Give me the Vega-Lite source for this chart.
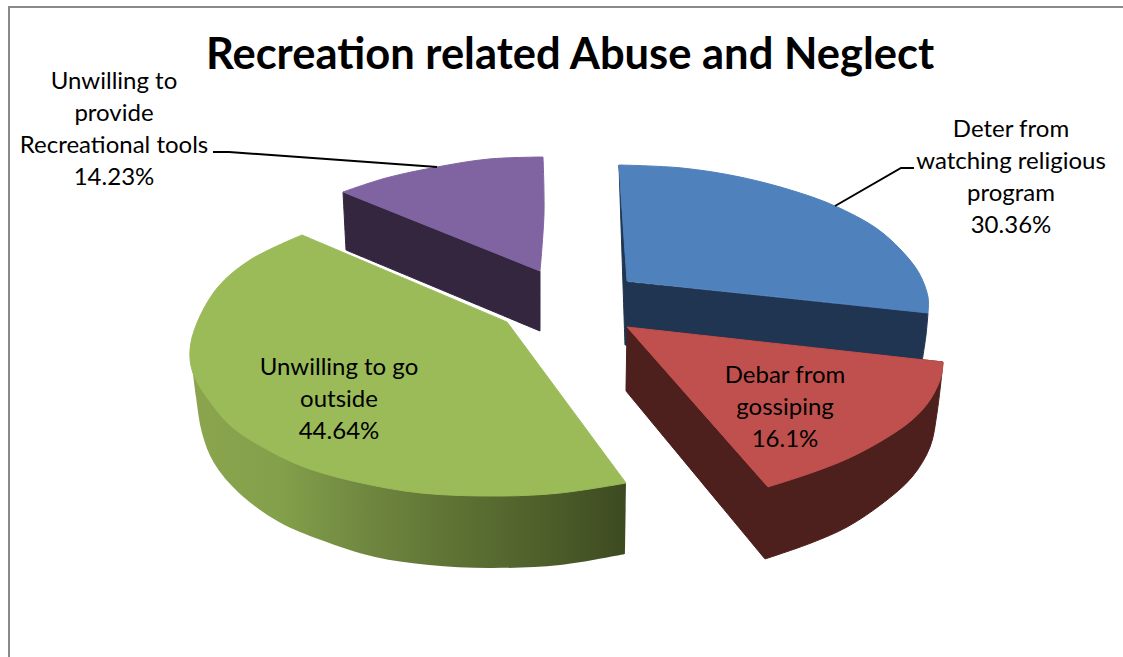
{
  "$schema": "https://vega.github.io/schema/vega-lite/v6.json",
  "autosize": "none",
  "width": 1123,
  "height": 657,
  "padding": 0,
  "background": "white",
  "config": {"view": {"stroke": null}},
  "datasets": {
    "faces": [
      {"face":"Deter side","i":1,"x":619,"y":165},{"face":"Deter side","i":2,"x":619,"y":165},{"face":"Deter side","i":3,"x":628,"y":282},{"face":"Deter side","i":4,"x":628,"y":282},{"face":"Deter side","i":5,"x":928,"y":313},{"face":"Deter side","i":6,"x":928,"y":313},{"face":"Deter side","i":7,"x":926,"y":335},{"face":"Deter side","i":8,"x":922,"y":362},{"face":"Deter side","i":9,"x":922,"y":362},{"face":"Deter side","i":10,"x":625,"y":345},{"face":"Deter side","i":11,"x":625,"y":345},{"face":"Deter side","i":12,"x":619,"y":165},{"face":"Deter side","i":13,"x":619,"y":165},

      {"face":"Deter top","i":1,"x":619,"y":165},{"face":"Deter top","i":2,"x":619,"y":165},{"face":"Deter top","i":3,"x":682,"y":168},{"face":"Deter top","i":4,"x":740,"y":177},{"face":"Deter top","i":5,"x":797,"y":192},{"face":"Deter top","i":6,"x":835,"y":206},{"face":"Deter top","i":7,"x":876,"y":228},{"face":"Deter top","i":8,"x":901,"y":250},{"face":"Deter top","i":9,"x":919,"y":273},{"face":"Deter top","i":10,"x":928,"y":297},{"face":"Deter top","i":11,"x":928,"y":313},{"face":"Deter top","i":12,"x":928,"y":313},{"face":"Deter top","i":13,"x":627,"y":281},{"face":"Deter top","i":14,"x":627,"y":281},{"face":"Deter top","i":15,"x":619,"y":165},{"face":"Deter top","i":16,"x":619,"y":165},

      {"face":"Debar side","i":1,"x":627,"y":327},{"face":"Debar side","i":2,"x":627,"y":327},{"face":"Debar side","i":3,"x":626,"y":391},{"face":"Debar side","i":4,"x":626,"y":391},{"face":"Debar side","i":5,"x":765,"y":559},{"face":"Debar side","i":6,"x":765,"y":559},{"face":"Debar side","i":7,"x":811,"y":543},{"face":"Debar side","i":8,"x":847,"y":527},{"face":"Debar side","i":9,"x":883,"y":503},{"face":"Debar side","i":10,"x":912,"y":477},{"face":"Debar side","i":11,"x":930,"y":447},{"face":"Debar side","i":12,"x":937,"y":413},{"face":"Debar side","i":13,"x":943,"y":362},{"face":"Debar side","i":14,"x":943,"y":362},{"face":"Debar side","i":15,"x":627,"y":327},{"face":"Debar side","i":16,"x":627,"y":327},

      {"face":"Debar top","i":1,"x":627,"y":327},{"face":"Debar top","i":2,"x":627,"y":327},{"face":"Debar top","i":3,"x":943,"y":362},{"face":"Debar top","i":4,"x":943,"y":362},{"face":"Debar top","i":5,"x":941,"y":377},{"face":"Debar top","i":6,"x":930,"y":400},{"face":"Debar top","i":7,"x":912,"y":420},{"face":"Debar top","i":8,"x":883,"y":440},{"face":"Debar top","i":9,"x":847,"y":459},{"face":"Debar top","i":10,"x":811,"y":473},{"face":"Debar top","i":11,"x":768,"y":487},{"face":"Debar top","i":12,"x":768,"y":487},{"face":"Debar top","i":13,"x":627,"y":327},{"face":"Debar top","i":14,"x":627,"y":327},

      {"face":"Tools side","i":1,"x":343,"y":192},{"face":"Tools side","i":2,"x":343,"y":192},{"face":"Tools side","i":3,"x":346,"y":250},{"face":"Tools side","i":4,"x":346,"y":250},{"face":"Tools side","i":5,"x":540,"y":331},{"face":"Tools side","i":6,"x":540,"y":331},{"face":"Tools side","i":7,"x":540,"y":271},{"face":"Tools side","i":8,"x":540,"y":271},{"face":"Tools side","i":9,"x":343,"y":192},{"face":"Tools side","i":10,"x":343,"y":192},

      {"face":"Tools top","i":1,"x":343,"y":192},{"face":"Tools top","i":2,"x":343,"y":192},{"face":"Tools top","i":3,"x":386,"y":178},{"face":"Tools top","i":4,"x":437,"y":167},{"face":"Tools top","i":5,"x":489,"y":159},{"face":"Tools top","i":6,"x":543,"y":157},{"face":"Tools top","i":7,"x":543,"y":157},{"face":"Tools top","i":8,"x":544,"y":213},{"face":"Tools top","i":9,"x":540,"y":271},{"face":"Tools top","i":10,"x":540,"y":271},{"face":"Tools top","i":11,"x":343,"y":192},{"face":"Tools top","i":12,"x":343,"y":192}
    ],
    "outsideTop": [
      {"i":1,"x":302,"y":235},{"i":2,"x":302,"y":235},{"i":3,"x":250,"y":260},{"i":4,"x":218,"y":287},{"i":5,"x":197,"y":323},{"i":6,"x":190,"y":350},{"i":7,"x":193,"y":373},{"i":8,"x":211,"y":403},{"i":9,"x":232,"y":427},{"i":10,"x":268,"y":450},{"i":11,"x":304,"y":467},{"i":12,"x":357,"y":482},{"i":13,"x":421,"y":493},{"i":14,"x":500,"y":496},{"i":15,"x":560,"y":493},{"i":16,"x":626,"y":483},{"i":17,"x":626,"y":483},{"i":18,"x":507,"y":322},{"i":19,"x":507,"y":322},{"i":20,"x":302,"y":235},{"i":21,"x":302,"y":235}
    ],
    "outsideSide": [
      {"i":1,"x":192,"y":365},{"i":2,"x":192,"y":365},{"i":3,"x":196,"y":397},{"i":4,"x":202,"y":433},{"i":5,"x":214,"y":463},{"i":6,"x":239,"y":493},{"i":7,"x":279,"y":522},{"i":8,"x":321,"y":540},{"i":9,"x":375,"y":557},{"i":10,"x":429,"y":565},{"i":11,"x":489,"y":568},{"i":12,"x":560,"y":565},{"i":13,"x":625,"y":554},{"i":14,"x":625,"y":554},{"i":15,"x":626,"y":483},{"i":16,"x":626,"y":483},{"i":17,"x":400,"y":470},{"i":18,"x":400,"y":470},{"i":19,"x":192,"y":365},{"i":20,"x":192,"y":365}
    ],
    "guides": [
      {"guide":"frame","i":1,"x":1123,"y":7},{"guide":"frame","i":2,"x":9,"y":7},{"guide":"frame","i":3,"x":9,"y":657},
      {"guide":"tools","i":1,"x":213,"y":152},{"guide":"tools","i":2,"x":229,"y":152},{"guide":"tools","i":3,"x":437,"y":167},
      {"guide":"deter","i":1,"x":914,"y":168},{"guide":"deter","i":2,"x":901,"y":168},{"guide":"deter","i":3,"x":835,"y":206}
    ],
    "slices": [
      {"label":"Deter from\nwatching religious\nprogram\n30.36%","share":30.36,"x":1011,"y":130},
      {"label":"Debar from\ngossiping\n16.1%","share":16.1,"x":785,"y":376},
      {"label":"Unwilling to go\noutside\n44.64%","share":44.64,"x":339,"y":368},
      {"label":"Unwilling to\nprovide\nRecreational tools\n14.23%","share":14.23,"x":114,"y":82}
    ],
    "heading": [{"text":"Recreation related Abuse and Neglect","x":570,"y":56}]
  },
  "layer": [
    {
      "data": {"name": "guides"},
      "transform": [{"filter": "datum.guide === 'frame'"}],
      "mark": {"type": "line", "stroke": "#8a8a8a", "strokeWidth": 2},
      "encoding": {
        "x": {"field": "x", "type": "quantitative", "scale": {"domain": [0, 1123], "nice": false, "zero": false}, "axis": null},
        "y": {"field": "y", "type": "quantitative", "scale": {"domain": [657, 0], "nice": false, "zero": false}, "axis": null},
        "order": {"field": "i", "type": "quantitative"}
      }
    },
    {
      "data": {"name": "faces"},
      "mark": {"type": "line", "interpolate": "catmull-rom", "strokeWidth": 1},
      "encoding": {
        "x": {"field": "x", "type": "quantitative"},
        "y": {"field": "y", "type": "quantitative"},
        "order": {"field": "i", "type": "quantitative"},
        "detail": {"field": "face"},
        "fill": {
          "field": "face", "type": "nominal", "legend": null,
          "scale": {
            "domain": ["Deter side", "Deter top", "Debar side", "Debar top", "Tools side", "Tools top"],
            "range": ["#1f3552", "#4f81bd", "#4d1f1d", "#c0504d", "#35263f", "#8064a2"]
          }
        },
        "stroke": {
          "field": "face", "type": "nominal", "legend": null,
          "scale": {
            "domain": ["Deter side", "Deter top", "Debar side", "Debar top", "Tools side", "Tools top"],
            "range": ["#1f3552", "#4f81bd", "#4d1f1d", "#c0504d", "#35263f", "#8064a2"]
          }
        }
      }
    },
    {
      "data": {"name": "outsideSide"},
      "mark": {
        "type": "line",
        "interpolate": "catmull-rom",
        "stroke": null,
        "fill": {
          "x1": 0, "y1": 0, "x2": 1, "y2": 0, "gradient": "linear",
          "stops": [
            {"offset": 0, "color": "#8ba54e"},
            {"offset": 0.2, "color": "#83a04a"},
            {"offset": 0.4, "color": "#708740"},
            {"offset": 0.6, "color": "#5e7334"},
            {"offset": 0.8, "color": "#4f602b"},
            {"offset": 1, "color": "#3d4a21"}
          ]
        }
      },
      "encoding": {
        "x": {"field": "x", "type": "quantitative"},
        "y": {"field": "y", "type": "quantitative"},
        "order": {"field": "i", "type": "quantitative"}
      }
    },
    {
      "data": {"name": "outsideTop"},
      "mark": {"type": "line", "interpolate": "catmull-rom", "fill": "#9bbb59", "stroke": "#9bbb59", "strokeWidth": 1},
      "encoding": {
        "x": {"field": "x", "type": "quantitative"},
        "y": {"field": "y", "type": "quantitative"},
        "order": {"field": "i", "type": "quantitative"}
      }
    },
    {
      "data": {"name": "guides"},
      "transform": [{"filter": "datum.guide !== 'frame'"}],
      "mark": {"type": "line", "stroke": "black", "strokeWidth": 2},
      "encoding": {
        "x": {"field": "x", "type": "quantitative"},
        "y": {"field": "y", "type": "quantitative"},
        "order": {"field": "i", "type": "quantitative"},
        "detail": {"field": "guide"}
      }
    },
    {
      "data": {"name": "slices"},
      "mark": {"type": "text", "font": "Lato", "fontSize": 24, "lineHeight": 32, "lineBreak": "\n", "align": "center", "baseline": "middle", "color": "black"},
      "encoding": {
        "x": {"field": "x", "type": "quantitative"},
        "y": {"field": "y", "type": "quantitative"},
        "text": {"field": "label"}
      }
    },
    {
      "data": {"name": "heading"},
      "mark": {"type": "text", "font": "Lato", "fontWeight": "bold", "fontSize": 43.5, "align": "center", "baseline": "middle", "color": "black"},
      "encoding": {
        "x": {"field": "x", "type": "quantitative"},
        "y": {"field": "y", "type": "quantitative"},
        "text": {"field": "text"}
      }
    }
  ]
}
